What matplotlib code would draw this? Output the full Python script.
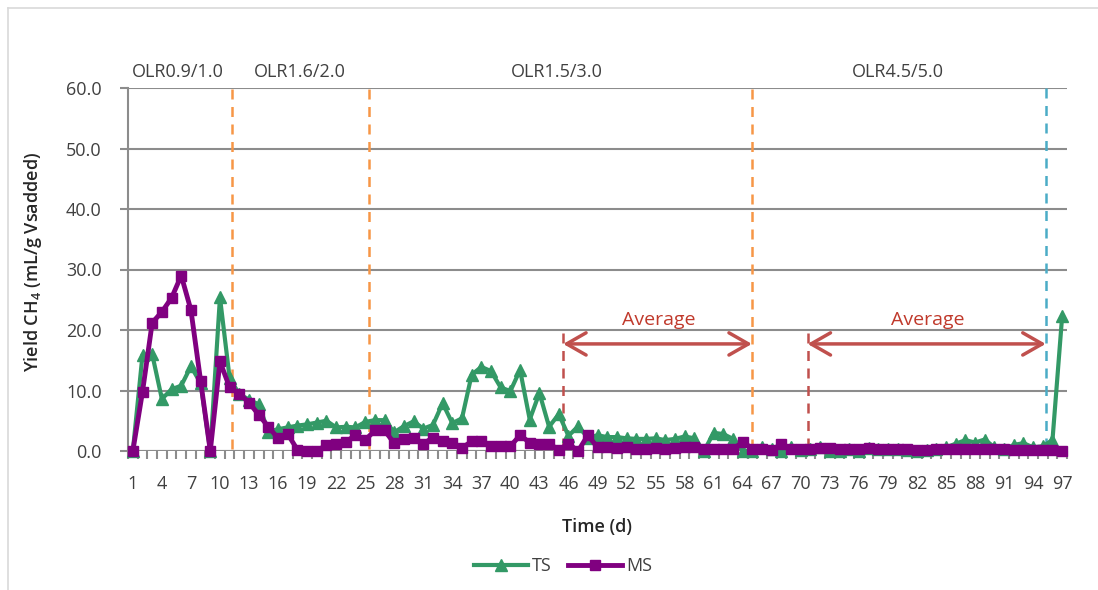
import matplotlib
matplotlib.use("Agg")
import matplotlib.pyplot as plt
from matplotlib.lines import Line2D
import numpy as np

plt.rcParams['font.family'] = ['Open Sans', 'DejaVu Sans']
plt.rcParams['mathtext.default'] = 'regular'

# Daily methane yield, days 1..97
days = list(range(1, 98))
ts_yield = [
    0.0, 15.9, 16.0, 8.6, 10.2, 10.8, 14.0, 11.2, 0.0, 25.4,
    12.0, 9.4, 8.5, 7.7, 3.2, 3.6, 3.9, 4.2, 4.4, 4.7,
    5.0, 3.9, 4.0, 3.9, 4.8, 5.1, 5.1, 3.1, 4.1, 4.9,
    3.7, 4.3, 7.9, 4.6, 5.4, 12.6, 13.9, 13.2, 10.5, 9.9,
    13.4, 5.2, 9.6, 4.0, 6.1, 2.5, 4.1, 2.2, 2.6, 2.3,
    2.3, 2.1, 2.0, 2.0, 2.1, 1.8, 2.0, 2.4, 2.1, 0.0,
    3.0, 2.8, 2.0, 0.0, 0.0, 0.6, 0.3, 0.0, 0.6, 0.2,
    0.4, 0.6, 0.0, 0.0, 0.3, 0.0, 0.5, 0.3, 0.4, 0.3,
    0.2, 0.0, 0.2, 0.4, 0.6, 1.2, 1.8, 1.4, 1.9, 0.6,
    0.3, 1.0, 1.3, 0.6, 0.8, 1.8, 22.3,
]
ms_yield = [
    0.0, 9.8, 21.2, 23.0, 25.3, 29.0, 23.3, 11.6, 0.0, 14.8,
    10.5, 9.5, 8.0, 6.0, 4.0, 2.1, 2.8, 0.2, 0.0, 0.0,
    1.0, 1.2, 1.5, 2.6, 1.8, 3.4, 3.4, 1.3, 2.0, 2.2,
    1.2, 2.2, 1.6, 1.4, 0.5, 1.6, 1.7, 0.8, 0.9, 0.8,
    2.6, 1.4, 1.1, 1.2, 0.2, 1.2, 0.0, 2.6, 0.6, 0.7,
    0.5, 0.6, 0.4, 0.4, 0.5, 0.4, 0.5, 0.6, 0.6, 0.4,
    0.3, 0.4, 0.3, 1.5, 0.4, 0.3, 0.2, 1.1, 0.3, 0.3,
    0.3, 0.5, 0.5, 0.4, 0.3, 0.3, 0.5, 0.4, 0.3, 0.3,
    0.3, 0.2, 0.2, 0.3, 0.3, 0.3, 0.3, 0.3, 0.3, 0.3,
    0.3, 0.2, 0.2, 0.2, 0.2, 0.2, 0.0,
]

# Loading-rate phases
phase_labels = ["OLR0.9/1.0", "OLR1.6/2.0", "OLR1.5/3.0", "OLR4.5/5.0"]
phase_label_x = [5.65, 18.25, 44.8, 80.0]
phase_bounds = [11.25, 25.35, 64.95]
last_bound = 95.3
avg_spans = [(45.45, 64.95), (70.7, 95.3)]

GREEN = "#339966"
PURPLE = "#800080"
ORANGE = "#F79646"
CYAN = "#4BACC6"
RED = "#C0504D"
TEXT = "#404040"
GRID = "#8C8C8C"

fig = plt.figure(figsize=(10.98, 5.90), dpi=100)
ax = fig.add_axes([128 / 1098, 1 - 451 / 590, (1067 - 128) / 1098, (451 - 88) / 590])

ax.set_xlim(0.5, 97.5)
ax.set_ylim(0, 60)

# horizontal gridlines
ax.set_yticks(np.arange(0, 61, 10))
ax.yaxis.grid(True, color=GRID, lw=1.5)
ax.set_axisbelow(True)
for s in ["top", "right", "bottom"]:
    ax.spines[s].set_visible(False)
ax.spines["left"].set_color(GRID)
ax.spines["left"].set_linewidth(1.5)
ax.axhline(0, color=GRID, lw=1.5, zorder=1)

ax.set_yticklabels([f"{v:.1f}" for v in np.arange(0, 61, 10)])
ax.tick_params(axis="y", length=6, width=1.5, color=GRID, pad=13,
               labelsize=13, labelcolor=TEXT)

# category ticks between days, labels every third day
ax.set_xticks(days[::3])
ax.set_xticklabels([str(d) for d in days[::3]])
ax.set_xticks(np.arange(0.5, 98, 1.0), minor=True)
ax.tick_params(axis="x", which="major", length=0, pad=17, labelsize=13,
               labelcolor=TEXT)
ax.tick_params(axis="x", which="minor", length=6, width=1.5, color=GRID)

# phase boundaries
for b in phase_bounds:
    ax.plot([b, b], [0.3, 60], color=ORANGE, lw=1.8, dashes=(4, 3), zorder=2)
ax.plot([last_bound, last_bound], [0.5, 60], color=CYAN, lw=1.8,
        dashes=(4, 3), zorder=2)

# averaging windows
for x0, x1 in avg_spans:
    ax.plot([x0, x0], [0.5, 19.9], color=RED, lw=1.8, dashes=(4, 3), zorder=2)
    ax.annotate("", xy=(x1, 17.7), xytext=(x0, 17.7),
                arrowprops=dict(arrowstyle="<->,head_length=0.7,head_width=0.4",
                                color=RED, lw=2.5, mutation_scale=20,
                                shrinkA=0, shrinkB=0), zorder=3)
    ax.text((x0 + x1) / 2 + 0.1, 21.6, "Average", color="#C0392B",
            fontsize=14, ha="center", va="center")

for lab, x in zip(phase_labels, phase_label_x):
    ax.text(x, 62.6, lab, color=TEXT, fontsize=13, ha="center", va="center",
            clip_on=False)

ax.plot(days, ts_yield, color=GREEN, lw=3, marker="^", markersize=8,
        clip_on=False, zorder=4, label="TS")
ax.plot(days, ms_yield, color=PURPLE, lw=3.5, marker="s", markersize=7,
        clip_on=False, zorder=5, label="MS")

fig.text(33 / 1098, 1 - 262 / 590, "Yield CH$_4$ (mL/g Vsadded)", rotation=90,
         ha="center", va="center", fontsize=13, fontweight="semibold",
         color="#262626")
fig.text(597 / 1098, 1 - 527 / 590, "Time (d)", ha="center", va="center",
         fontsize=13, fontweight="semibold", color="#262626")

handles = [
    Line2D([], [], color=GREEN, lw=3, marker="^", markersize=8),
    Line2D([], [], color=PURPLE, lw=3.5, marker="s", markersize=7),
]
fig.legend(handles, ["TS", "MS"], loc="center", ncol=2, frameon=False,
           bbox_to_anchor=(563 / 1098, 1 - 566 / 590), fontsize=13,
           handlelength=3.0, handletextpad=0.2, columnspacing=0.9,
           labelcolor=TEXT)

# chart-area border
fig.add_artist(Line2D([7.5 / 1098, 7.5 / 1098], [0, 1 - 7.5 / 590],
                      color="#D9D9D9", lw=1.2, transform=fig.transFigure))
fig.add_artist(Line2D([7.5 / 1098, 1], [1 - 7.5 / 590, 1 - 7.5 / 590],
                      color="#D9D9D9", lw=1.2, transform=fig.transFigure))

fig.savefig("out.png", dpi=100)
